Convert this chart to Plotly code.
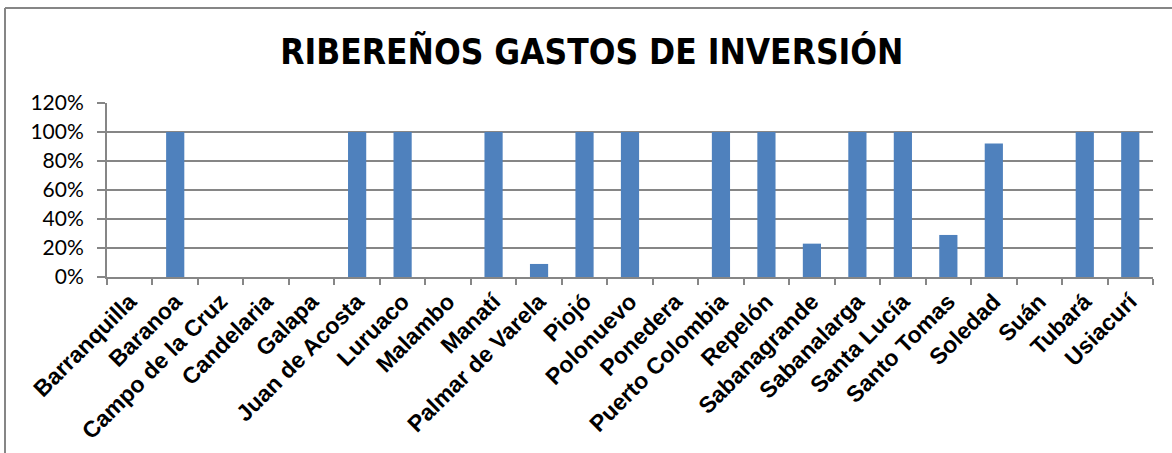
import plotly.graph_objects as go

municipios = ["Barranquilla", "Baranoa", "Campo de la Cruz", "Candelaria", "Galapa",
              "Juan de Acosta", "Luruaco", "Malambo", "Manatí", "Palmar de Varela",
              "Piojó", "Polonuevo", "Ponedera", "Puerto Colombia", "Repelón",
              "Sabanagrande", "Sabanalarga", "Santa Lucía", "Santo Tomas", "Soledad",
              "Suán", "Tubará", "Usiacurí"]
porcentaje = [0.0, 1.0, 0.0, 0.0, 0.0,
              1.0, 1.0, 0.0, 1.0, 0.09,
              1.0, 1.0, 0.0, 1.0, 1.0,
              0.23, 1.0, 1.0, 0.29, 0.92,
              0.0, 1.0, 1.0]
y_ticks = [0, 0.2, 0.4, 0.6, 0.8, 1.0, 1.2]

W, H = 1172, 453
L, R, T, B = 107, 19, 103, 176
pw, ph = W - L - R, H - T - B

def px_x(x):
    return (x - L) / pw

def px_y(y):
    return (H - B - y) / ph

fig = go.Figure()
fig.add_trace(go.Bar(
    x=municipios, y=porcentaje,
    marker=dict(color="#4F81BD", line=dict(width=0)),
    width=0.4,
))

fig.update_layout(
    width=W, height=H,
    margin=dict(l=L, r=R, t=T, b=B, autoexpand=False),
    paper_bgcolor="white", plot_bgcolor="white",
    showlegend=False,
    title=dict(
        text="<b>RIBEREÑOS GASTOS DE INVERSIÓN</b>",
        x=0.505, xanchor="center", y=0.885, yanchor="middle",
        font=dict(family="Liberation Sans Narrow, DejaVu Sans Condensed, Arial Narrow, sans-serif",
                  size=35, color="#000000"),
    ),
    xaxis=dict(
        type="category",
        tickangle=-45,
        tickson="boundaries",
        automargin=False,
        ticks="outside", ticklen=6, tickcolor="#868686", tickwidth=2,
        showline=True, linecolor="#868686", linewidth=2,
        showgrid=False,
        tickfont=dict(family="Liberation Sans, Arial, sans-serif", size=23,
                      color="#000000", weight="bold"),
        range=[-0.5, len(municipios) - 0.5],
    ),
    yaxis=dict(
        range=[0, 1.2],
        tickvals=y_ticks,
        tickformat=".0%",
        automargin=False,
        ticks="outside", ticklen=8, tickcolor="#868686", tickwidth=2,
        ticklabelstandoff=9,
        showline=True, linecolor="#868686", linewidth=2,
        showgrid=True, gridcolor="#868686", gridwidth=2,
        zeroline=False,
        tickfont=dict(family="Lato, Carlito, sans-serif", size=21, color="#000000"),
    ),
    shapes=[
        dict(type="line", xref="paper", yref="paper", x0=px_x(5), x1=px_x(W), y0=px_y(8), y1=px_y(8),
             line=dict(color="#868686", width=2)),
        dict(type="line", xref="paper", yref="paper", x0=px_x(5), x1=px_x(5), y0=px_y(8), y1=px_y(H),
             line=dict(color="#868686", width=2)),
    ],
)

fig.write_html("out.html",
               config={"displayModeBar": False},
               post_script="document.body.style.margin='0';document.body.style.overflow='hidden';")
